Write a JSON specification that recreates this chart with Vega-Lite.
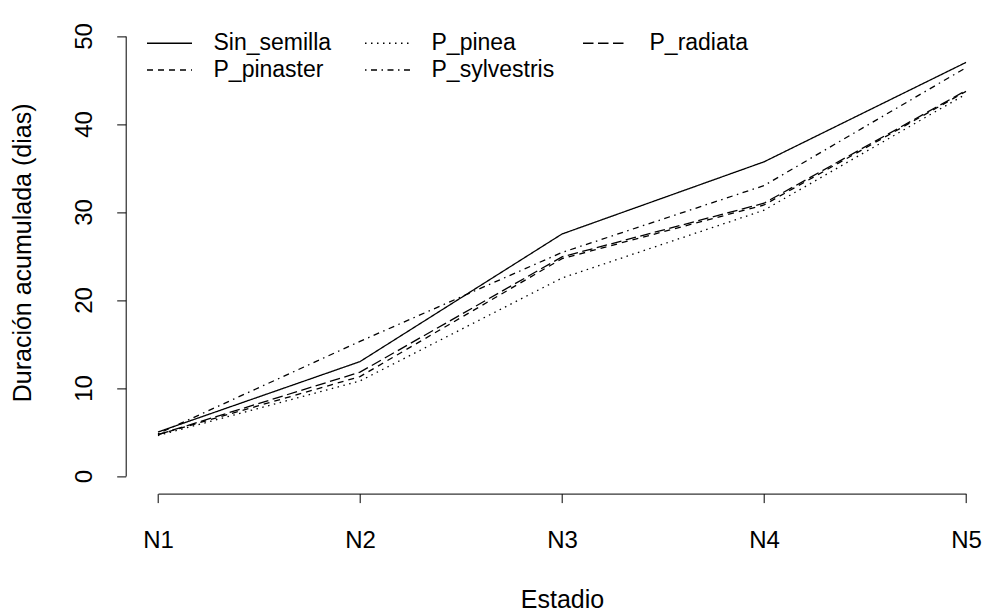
{
  "$schema": "https://vega.github.io/schema/vega-lite/v6.json",
  "width": 840.3,
  "height": 475.2,
  "autosize": {"type": "none"},
  "padding": {"left": 125.7, "top": 18.4, "right": 17, "bottom": 118.4},
  "background": "white",
  "config": {
    "view": {"stroke": null},
    "font": "Liberation Sans",
    "axis": {"grid": false, "domainColor": "black", "tickColor": "black", "labelColor": "black", "titleColor": "black", "domainWidth": 1, "tickWidth": 1, "tickSize": 9, "labelFontSize": 24, "titleFontSize": 25, "labelFont": "Liberation Sans", "titleFont": "Liberation Sans", "titleFontWeight": "normal"}
  },
  "data": {
    "values": [
      {"estadio": 1, "trat": "Sin_semilla", "dias": 5.0},
      {"estadio": 2, "trat": "Sin_semilla", "dias": 13.0},
      {"estadio": 3, "trat": "Sin_semilla", "dias": 27.5},
      {"estadio": 4, "trat": "Sin_semilla", "dias": 35.7},
      {"estadio": 5, "trat": "Sin_semilla", "dias": 47.0},
      {"estadio": 1, "trat": "P_pinaster", "dias": 4.7},
      {"estadio": 2, "trat": "P_pinaster", "dias": 11.3},
      {"estadio": 3, "trat": "P_pinaster", "dias": 24.7},
      {"estadio": 4, "trat": "P_pinaster", "dias": 30.8},
      {"estadio": 5, "trat": "P_pinaster", "dias": 43.7},
      {"estadio": 1, "trat": "P_pinea", "dias": 4.6},
      {"estadio": 2, "trat": "P_pinea", "dias": 10.8},
      {"estadio": 3, "trat": "P_pinea", "dias": 22.5},
      {"estadio": 4, "trat": "P_pinea", "dias": 30.2},
      {"estadio": 5, "trat": "P_pinea", "dias": 43.4},
      {"estadio": 1, "trat": "P_sylvestris", "dias": 4.8},
      {"estadio": 2, "trat": "P_sylvestris", "dias": 15.3},
      {"estadio": 3, "trat": "P_sylvestris", "dias": 25.4},
      {"estadio": 4, "trat": "P_sylvestris", "dias": 33.0},
      {"estadio": 5, "trat": "P_sylvestris", "dias": 46.4},
      {"estadio": 1, "trat": "P_radiata", "dias": 4.7},
      {"estadio": 2, "trat": "P_radiata", "dias": 11.8},
      {"estadio": 3, "trat": "P_radiata", "dias": 24.9},
      {"estadio": 4, "trat": "P_radiata", "dias": 31.0},
      {"estadio": 5, "trat": "P_radiata", "dias": 43.8}
    ]
  },
  "mark": {"type": "line", "color": "black", "strokeWidth": 1.3},
  "encoding": {
    "x": {
      "field": "estadio", "type": "quantitative",
      "scale": {"domain": [1, 5], "range": [32.3, 840.3], "nice": false, "zero": false},
      "axis": {"values": [1, 2, 3, 4, 5], "labelExpr": "'N' + datum.value", "title": "Estadio", "labelPadding": 38, "labelBaseline": "middle", "titleX": 436.3, "titleY": 106, "titleBaseline": "middle", "titleAlign": "center", "labelFlush": false, "labelOverlap": false}
    },
    "y": {
      "field": "dias", "type": "quantitative",
      "scale": {"domain": [0, 50], "range": [457.6, 17.6], "nice": false, "zero": false},
      "axis": {"values": [0, 10, 20, 30, 40, 50], "title": "Duración acumulada (dias)", "labelAngle": -90, "labelAlign": "center", "labelBaseline": "bottom", "labelPadding": 20, "titleAngle": 270, "titleX": -103, "titleY": 234, "titleBaseline": "middle", "titleAlign": "center", "labelFlush": false, "labelOverlap": false}
    },
    "strokeDash": {
      "field": "trat", "type": "nominal",
      "scale": {
        "domain": ["Sin_semilla", "P_pinaster", "P_pinea", "P_sylvestris", "P_radiata"],
        "range": [[1, 0], [6, 5], [1.5, 4.5], [1.5, 4.5, 6, 4.5], [10.5, 4.5]]
      },
      "legend": {
        "title": null, "orient": "none", "legendX": 21.3, "legendY": 13.1, "columns": 3,
        "gridAlign": "all", "padding": 0, "rowPadding": 3, "columnPadding": 25,
        "symbolType": "M-3,0H3", "symbolSize": 225, "symbolStrokeColor": "black", "symbolStrokeWidth": 1.3,
        "symbolOffset": 11, "labelOffset": 32.5, "labelFontSize": 23, "labelColor": "black", "labelFont": "Liberation Sans"
      }
    }
  }
}
